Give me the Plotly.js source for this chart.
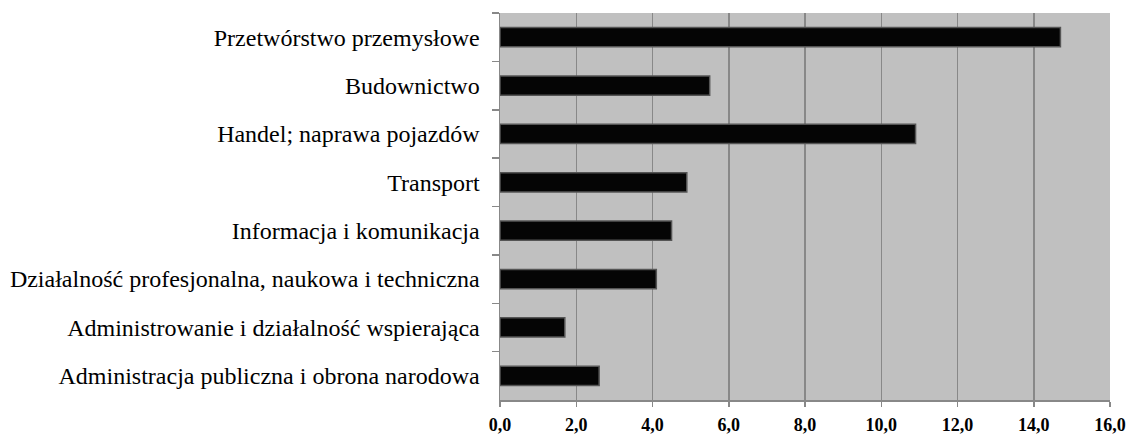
<!DOCTYPE html>
<html><head><meta charset="utf-8">
<script src="https://cdn.plot.ly/plotly-3.0.1.min.js"></script>
<style>html,body{margin:0;padding:0;background:#fff}</style>
</head><body>
<div id="chart" style="width:1130px;height:434px"></div>
<script>
const categories = [
  "Przetwórstwo przemysłowe",
  "Budownictwo",
  "Handel; naprawa pojazdów",
  "Transport",
  "Informacja i komunikacja",
  "Działalność profesjonalna, naukowa i techniczna",
  "Administrowanie i działalność wspierająca",
  "Administracja publiczna i obrona narodowa"
];
const values = [14.7, 5.5, 10.9, 4.9, 4.5, 4.1, 1.7, 2.6];
const xTickVals = [0, 2, 4, 6, 8, 10, 12, 14, 16];
const xTickText = ["0,0", "2,0", "4,0", "6,0", "8,0", "10,0", "12,0", "14,0", "16,0"];

Plotly.newPlot("chart", [{
  type: "bar",
  orientation: "h",
  y: categories,
  x: values,
  width: 0.4,
  marker: {color: "#050505", line: {color: "#555555", width: 1.5}},
  hoverinfo: "skip"
}], {
  width: 1130, height: 434,
  margin: {l: 500, r: 20, t: 13, b: 34},
  paper_bgcolor: "#ffffff",
  plot_bgcolor: "#c0c0c0",
  showlegend: false,
  xaxis: {
    range: [0, 16],
    tickvals: xTickVals,
    ticktext: xTickText.map(t => "<b>" + t + "</b>"),
    showgrid: true, gridcolor: "#888888", gridwidth: 1.5,
    zeroline: false,
    showline: true, linecolor: "#888888", linewidth: 1.5,
    ticks: "outside", ticklen: 5, tickcolor: "#888888", tickwidth: 1.5,
    tickfont: {family: "Liberation Serif", size: 18, color: "#000"},
    ticklabelstandoff: 3
  },
  yaxis: {
    type: "category",
    autorange: "reversed",
    showgrid: false, zeroline: false,
    showline: true, linecolor: "#888888", linewidth: 1.5,
    ticks: "outside", ticklen: 7, tickcolor: "#888888", tickwidth: 1.5,
    tickson: "boundaries",
    tickfont: {family: "Liberation Serif", size: 24, color: "#000"},
    ticklabelstandoff: 14
  }
}, {staticPlot: true});
</script>
</body></html>
